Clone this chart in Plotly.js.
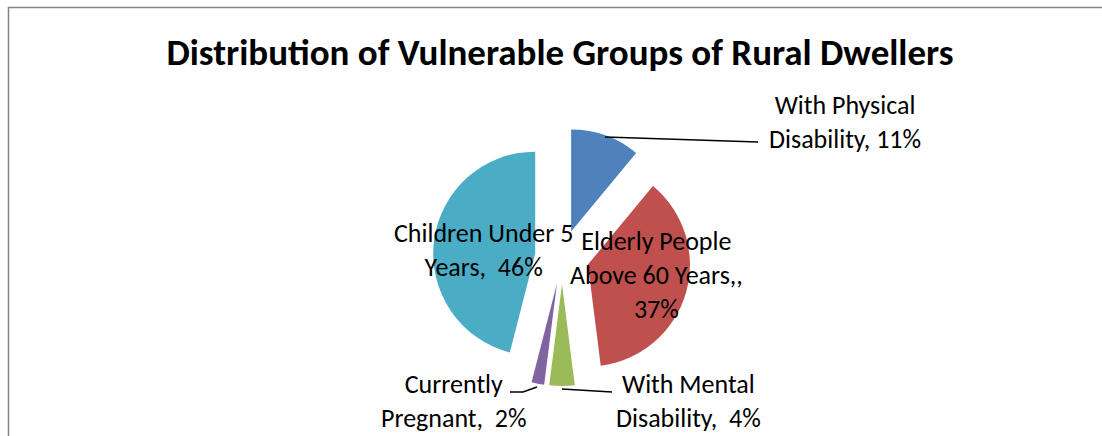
<!DOCTYPE html>
<html>
<head>
<meta charset="utf-8">
<script src="https://cdn.plot.ly/plotly-3.0.1.min.js"></script>
<style>html,body{margin:0;padding:0;background:#fff;}#chart{width:1102px;height:436px;}</style>
</head>
<body>
<div id="chart"></div>
<script>
// ---- data ----
const categories = ["With Physical Disability", "Elderly People Above 60 Years,", "With Mental Disability", "Currently Pregnant", "Children Under 5 Years"];
const values = [11, 37, 4, 2, 46];
const wrappedNames = ["With Physical<br>Disability", "Elderly People<br>Above 60 Years,", "With Mental<br>Disability", "Currently<br>Pregnant", "Children Under 5<br>Years"];
const separators = [", ", ",<br>", ",  ", ",  ", ",  "];
const colors = ["#4F81BD", "#C0504D", "#9BBB59", "#8064A2", "#4BACC6"];
const titleText = "Distribution of Vulnerable Groups of Rural Dwellers";

// ---- layout helpers ----
const W = 1102, H = 436;
const px = x => x / W;
const py = y => 1 - y / H;
const FONT = "Carlito, Lato, 'Open Sans', sans-serif";

// label centre positions (pixels) in slice order
const labelPos = [[845, 122], [656, 275], [688, 401], [454, 401], [483, 250]];

const annotations = categories.map((c, i) => ({
  xref: 'paper', yref: 'paper',
  x: px(labelPos[i][0]), y: py(labelPos[i][1]),
  xanchor: 'center', yanchor: 'middle',
  text: wrappedNames[i] + separators[i] + values[i] + '%',
  showarrow: false,
  align: 'center',
  font: {family: FONT, size: 26, color: '#000'}
}));

function pathPx(pts) {
  return pts.map((p, i) => (i ? 'L ' : 'M ') + px(p[0]) + ' ' + py(p[1])).join(' ');
}

const shapes = [
  {type: 'rect', xref: 'paper', yref: 'paper', x0: px(8.5), x1: px(1110), y0: py(7.5), y1: py(450),
   line: {color: '#878787', width: 1.5}, fillcolor: 'rgba(0,0,0,0)', layer: 'below'},
  {type: 'path', xref: 'paper', yref: 'paper', path: pathPx([[605, 137], [758, 142]]), line: {color: '#000', width: 1.5}},
  {type: 'path', xref: 'paper', yref: 'paper', path: pathPx([[562, 389], [612, 392]]), line: {color: '#000', width: 1.5}},
  {type: 'path', xref: 'paper', yref: 'paper', path: pathPx([[537, 387], [523, 392], [510, 392]]), line: {color: '#000', width: 1.5}}
];

const trace = {
  type: 'pie',
  labels: categories,
  values: values,
  sort: false,
  direction: 'clockwise',
  rotation: 0,
  pull: 0.265,
  textinfo: 'none',
  hoverinfo: 'label+percent',
  marker: {colors: colors, line: {width: 0}},
  domain: {x: [px(433), px(691)], y: [py(386), py(128)]},
  showlegend: false
};

const layout = {
  width: W, height: H,
  margin: {l: 0, r: 0, t: 0, b: 0},
  paper_bgcolor: '#fff',
  showlegend: false,
  title: {text: '<b>' + titleText + '</b>', x: px(560), xanchor: 'center', y: py(52), yanchor: 'middle', yref: 'container',
          font: {family: FONT, size: 37, color: '#000'}},
  annotations: annotations,
  shapes: shapes
};

Plotly.newPlot('chart', [trace], layout, {displayModeBar: false, staticPlot: true});
</script>
</body>
</html>
